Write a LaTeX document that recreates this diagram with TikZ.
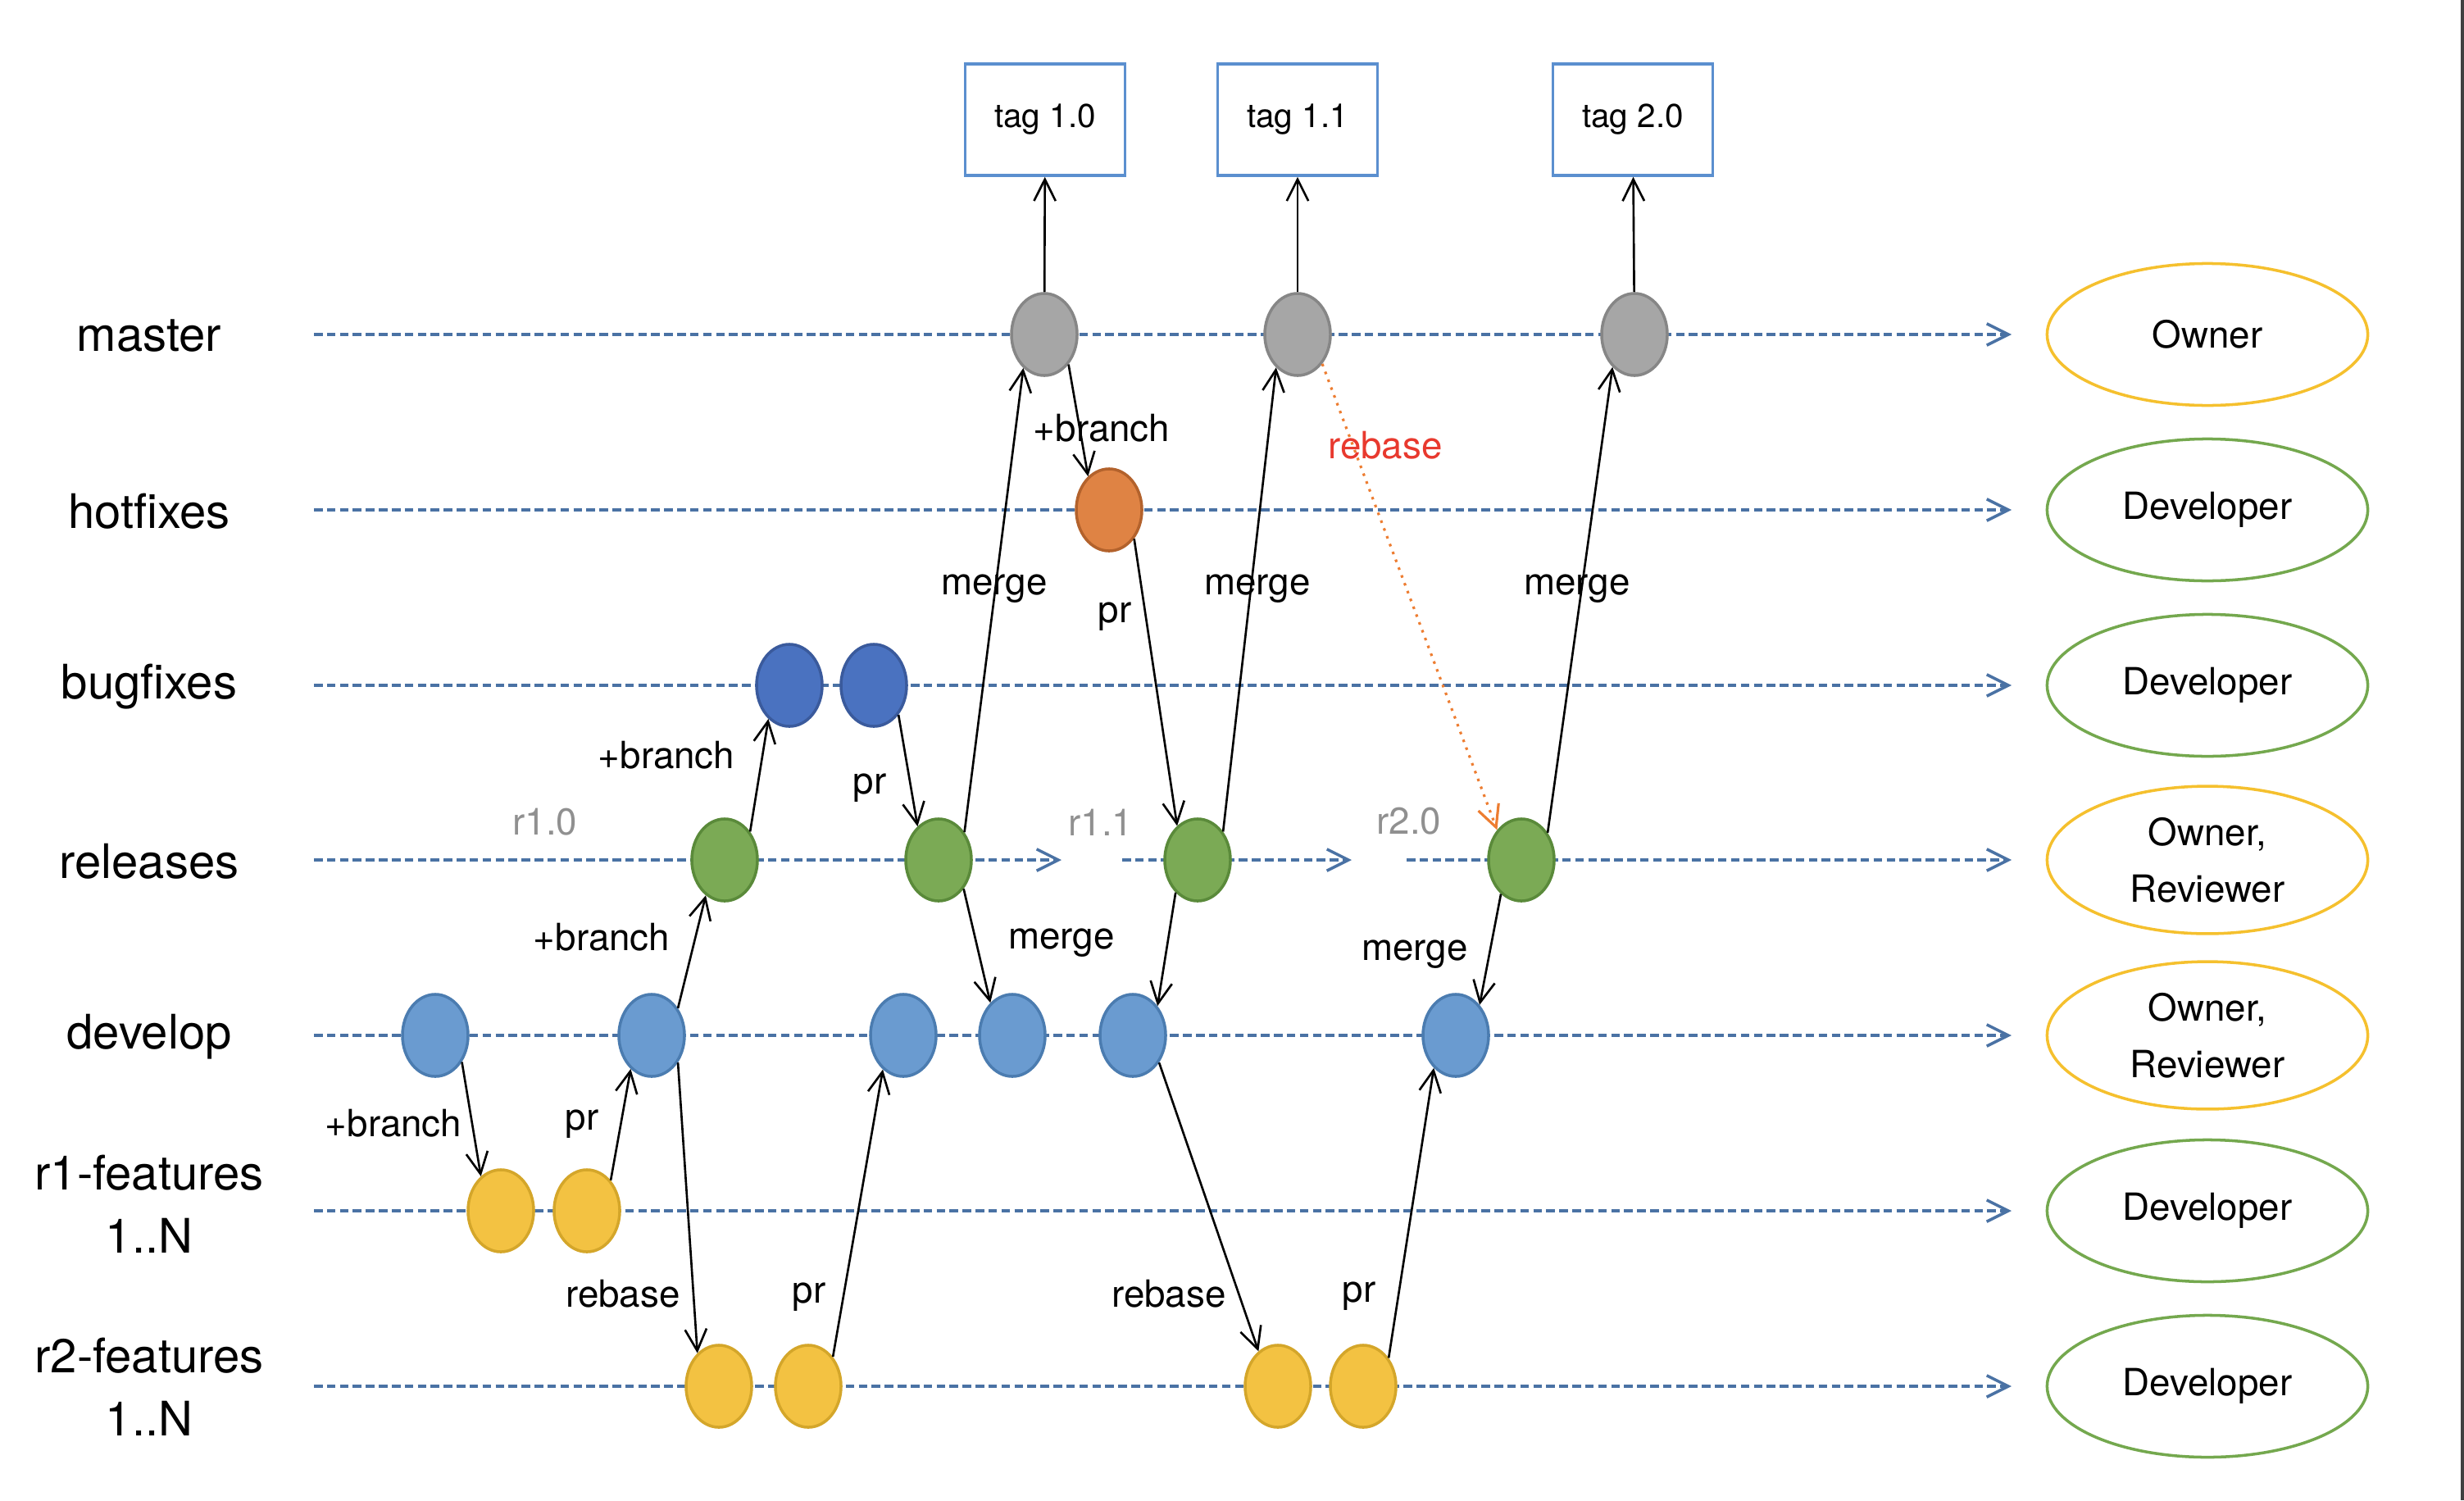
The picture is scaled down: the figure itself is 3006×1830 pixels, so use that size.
\documentclass[tikz,border=0pt]{standalone}
\usepackage{fontspec}
\setmainfont{TeX Gyre Heros}
\usepackage{xcolor}
\usetikzlibrary{arrows.meta, shapes.geometric}

\definecolor{laneblue}{HTML}{4A72A4}
\definecolor{tagblue}{HTML}{5B8FCF}
\definecolor{grayfill}{HTML}{A6A6A6}
\definecolor{grayline}{HTML}{868686}
\definecolor{hotfill}{HTML}{DF8344}
\definecolor{hotline}{HTML}{B3622C}
\definecolor{bugfill}{HTML}{4A72C0}
\definecolor{bugline}{HTML}{3A5A9C}
\definecolor{relfill}{HTML}{7BAA55}
\definecolor{relline}{HTML}{5A8A3A}
\definecolor{devfill}{HTML}{6A9BD0}
\definecolor{devline}{HTML}{4B7CB0}
\definecolor{featfill}{HTML}{F3C242}
\definecolor{featline}{HTML}{D4A62A}
\definecolor{ownyellow}{HTML}{F5C02E}
\definecolor{devgreen}{HTML}{74A84E}
\definecolor{rebasered}{HTML}{E8392E}
\definecolor{rebaseorange}{HTML}{ED7D31}
\definecolor{versiongray}{HTML}{909090}

\begin{document}
\begin{tikzpicture}[x=0.01cm, y=-0.01cm,
  lane/.style={draw=laneblue, line width=1pt, dash pattern=on 3pt off 1.5pt,
    -{Straight Barb[length=7.5pt, width=7.5pt]}},
  commit/.style={ellipse, minimum width=0.8cm, minimum height=1cm, inner sep=0pt, line width=1pt},
  flow/.style={line width=0.75pt, -{Straight Barb[length=7.5pt, width=7.5pt]}},
  rowlbl/.style={align=center, font=\fontsize{16.5}{22}\selectfont},
  lbl/.style={font=\fontsize{13}{16}\selectfont, inner sep=1pt},
  version/.style={font=\fontsize{13}{16}\selectfont, text=versiongray},
  tagbox/.style={draw=tagblue, line width=1pt, minimum width=1.95cm, minimum height=1.36cm,
    font=\fontsize{11.5}{14}\selectfont},
  role/.style={ellipse, draw=#1, line width=1pt, minimum width=3.91cm, minimum height=1.73cm,
    align=center, font=\fontsize{13}{19.6}\selectfont}]
  \useasboundingbox (0,0) rectangle (3006,1830);
  \draw[black!75, line width=0.9pt] (3004,0) -- (3004,1830);

  % lanes
  \foreach \y/\n in {408/mas, 622/hot, 836/bug, 1263/dev, 1477/fa, 1691/fb} {
    \coordinate (\n-s) at (383,\y);
    \coordinate (\n-e) at (2454,\y);
    \draw[lane] (\n-s) -- (\n-e);
  }
  \coordinate (rel-s) at (383,1049);
  \coordinate (rel-a) at (1295,1049);
  \coordinate (rel-b) at (1369,1049);
  \coordinate (rel-c) at (1649,1049);
  \coordinate (rel-d) at (1716,1049);
  \coordinate (rel-e) at (2454,1049);
  \draw[lane] (rel-s) -- (rel-a);
  \draw[lane] (rel-b) -- (rel-c);
  \draw[lane] (rel-d) -- (rel-e);

  % branch names
  \node[rowlbl] (lmas) at (182,410) {master};
  \node[rowlbl] (lhot) at (182,624) {hotfixes};
  \node[rowlbl] (lbug) at (182,838) {bugfixes};
  \node[rowlbl] (lrel) at (182,1051) {releases};
  \node[rowlbl] (ldev) at (182,1265) {develop};
  \node[rowlbl] (lfa) at (182,1469) {r1-features\\1..N};
  \node[rowlbl] (lfb) at (182,1692) {r2-features\\1..N};

  % roles
  \node[role=ownyellow] (own1) at (2693,408) {Owner};
  \node[role=devgreen] (dvl1) at (2693,622) {Developer};
  \node[role=devgreen] (dvl2) at (2693,836) {Developer};
  \node[role=ownyellow] (own2) at (2693,1049) {Owner,\\Reviewer};
  \node[role=ownyellow] (own3) at (2693,1263) {Owner,\\Reviewer};
  \node[role=devgreen] (dvl3) at (2693,1477) {Developer};
  \node[role=devgreen] (dvl4) at (2693,1691) {Developer};

  % commits
  \node[commit, fill=grayfill, draw=grayline] (m1) at (1274,408) {};
  \node[commit, fill=grayfill, draw=grayline] (m2) at (1583,408) {};
  \node[commit, fill=grayfill, draw=grayline] (m3) at (1994,408) {};
  \node[commit, fill=hotfill, draw=hotline] (hf) at (1353,622) {};
  \node[commit, fill=bugfill, draw=bugline] (b1) at (963,836) {};
  \node[commit, fill=bugfill, draw=bugline] (b2) at (1066,836) {};
  \node[commit, fill=relfill, draw=relline] (r1) at (884,1049) {};
  \node[commit, fill=relfill, draw=relline] (r2) at (1145,1049) {};
  \node[commit, fill=relfill, draw=relline] (r3) at (1461,1049) {};
  \node[commit, fill=relfill, draw=relline] (r4) at (1856,1049) {};
  \node[commit, fill=devfill, draw=devline] (d1) at (531,1263) {};
  \node[commit, fill=devfill, draw=devline] (d2) at (795,1263) {};
  \node[commit, fill=devfill, draw=devline] (d3) at (1102,1263) {};
  \node[commit, fill=devfill, draw=devline] (d4) at (1235,1263) {};
  \node[commit, fill=devfill, draw=devline] (d5) at (1382,1263) {};
  \node[commit, fill=devfill, draw=devline] (d6) at (1776,1263) {};
  \node[commit, fill=featfill, draw=featline] (fa1) at (611,1477) {};
  \node[commit, fill=featfill, draw=featline] (fa2) at (716,1477) {};
  \node[commit, fill=featfill, draw=featline] (fb1) at (877,1691) {};
  \node[commit, fill=featfill, draw=featline] (fb2) at (986,1691) {};
  \node[commit, fill=featfill, draw=featline] (fb3) at (1559,1691) {};
  \node[commit, fill=featfill, draw=featline] (fb4) at (1663,1691) {};

  % tags
  \node[tagbox] (t1) at (1275,146) {tag 1.0};
  \node[tagbox] (t2) at (1583,146) {tag 1.1};
  \node[tagbox] (t3) at (1992,146) {tag 2.0};
  \draw[flow] (m1) -- (t1);
  \draw[flow] (m2) -- (t2);
  \draw[flow] (m3) -- (t3);

  % release names
  \node[version] (v10) at (665,1003) {r1.0};
  \node[version] (v11) at (1343,1003) {r1.1};
  \node[version] (v20) at (1719,1002) {r2.0};

  % flows between branches
  \draw[flow] (d1.-45) -- (fa1.120);
  \draw[flow] (fa2.52) -- (d2.238);
  \draw[flow] (d2.-46) -- (fb1.123);
  \draw[flow] (fb2.50) -- (d3.239);
  \draw[flow] (d2.46) -- (r1.242);
  \draw[flow] (r1.48) -- (b1.238);
  \draw[flow] (b2.-50) -- (r2.122);
  \draw[flow] (r2.-49) -- (d4.124);
  \draw[flow] (r2.47) -- (m1.238);
  \draw[flow] (m1.-51) -- (hf.122);
  \draw[flow] (hf.-49) -- (r3.121);
  \draw[flow] (r3.48) -- (m2.237);
  \draw[flow] (r3.236) -- (d5.50);
  \draw[flow] (d5.-46) -- (fb3.119);
  \draw[flow] (fb4.48) -- (d6.236);
  \draw[flow] (r4.239) -- (d6.52);
  \draw[flow] (r4.46) -- (m3.236);
  \draw[rebaseorange, line width=0.9pt, dotted, -{Straight Barb[length=7.5pt, width=7.5pt]}] (m2.-50) -- (r4.129);

  % flow labels
  \node[lbl] (e1) at (480,1370) {+branch};
  \node[lbl] (e2) at (710,1371) {pr};
  \node[lbl] (e3) at (760,1578) {rebase};
  \node[lbl] (e4) at (987,1582) {pr};
  \node[lbl] (e5) at (734,1143) {+branch};
  \node[lbl] (e6) at (813,921) {+branch};
  \node[lbl] (e7) at (1061,961) {pr};
  \node[lbl] (e8) at (1295,1150) {merge};
  \node[lbl] (e9) at (1213,718) {merge};
  \node[lbl] (e10) at (1344,522) {+branch};
  \node[lbl] (e11) at (1360,752) {pr};
  \node[lbl] (e12) at (1534,718) {merge};
  \node[lbl] (e13) at (1426,1578) {rebase};
  \node[lbl] (e14) at (1658,1581) {pr};
  \node[lbl] (e15) at (1726,1164) {merge};
  \node[lbl] (e16) at (1924,718) {merge};
  \node[lbl, text=rebasered] (e17) at (1690,543) {rebase};
\end{tikzpicture}
\end{document}
